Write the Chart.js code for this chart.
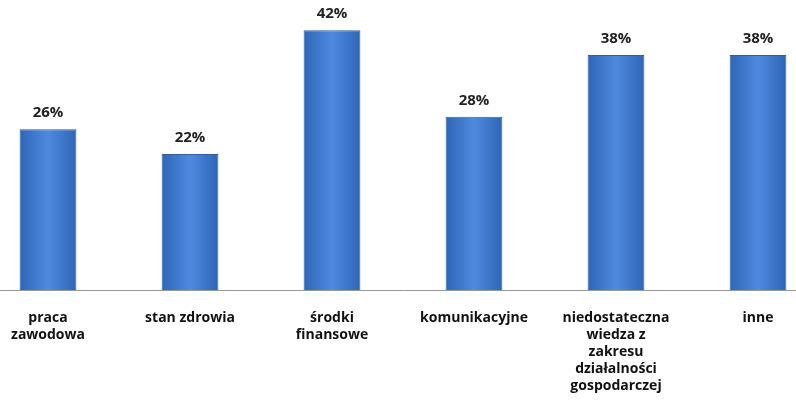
<!DOCTYPE html>
<html><head><meta charset="utf-8">
<script src="https://cdn.jsdelivr.net/npm/chart.js@4"></script>
<style>html,body{margin:0;padding:0;overflow:hidden;background:#fff}
#w{position:absolute;left:-23px;top:0;width:852px;height:414px}</style>
</head><body><div id="w"><canvas id="c"></canvas></div>
<script>
const categories=[["praca","zawodowa"],["stan zdrowia"],["środki","finansowe"],["komunikacyjne"],["niedostateczna","wiedza z","zakresu","działalności","gospodarczej"],["inne"]];
const values=[26,22,42,28,38,38];
const labelPlugin={id:'lbl',afterDatasetsDraw(ch){const c=ch.ctx;const m=ch.getDatasetMeta(0);c.save();c.font='bold 15px "Open Sans"';c.fillStyle='#222';c.textAlign='center';c.textBaseline='bottom';
m.data.forEach((b,i)=>c.fillText(values[i]+'%',b.x,b.y-9));c.restore();}};
new Chart(document.getElementById('c'),{type:'bar',
data:{labels:categories,datasets:[{data:values,borderColor:'#2f5f9e',borderWidth:1,
backgroundColor:(ctx)=>{const ch=ctx.chart;const a=ch.chartArea;const sx=ch.scales&&ch.scales.x;if(!a||!sx||ctx.dataIndex===undefined)return '#4a7ebb';const x=sx.getPixelForValue(ctx.dataIndex);if(!isFinite(x))return '#4a7ebb';const w=57;const g=ch.ctx.createLinearGradient(x-w/2,0,x+w/2,0);g.addColorStop(0,'#2f65b5');g.addColorStop(0.5,'#4f8ae0');g.addColorStop(1,'#2f65b5');return g;},
barPercentage:0.4,categoryPercentage:1}]},
options:{responsive:true,maintainAspectRatio:false,animation:false,
layout:{padding:{top:0,bottom:0,left:0,right:0}},
plugins:{legend:{display:false},tooltip:{enabled:false}},
scales:{y:{min:0,max:46.9,display:false},
x:{grid:{display:false,drawTicks:false},border:{color:'#999'},ticks:{color:'#111',font:{family:'Open Sans',size:14,weight:'bold'},padding:20,maxRotation:0,autoSkip:false}}}},
plugins:[labelPlugin]});
</script></body></html>
